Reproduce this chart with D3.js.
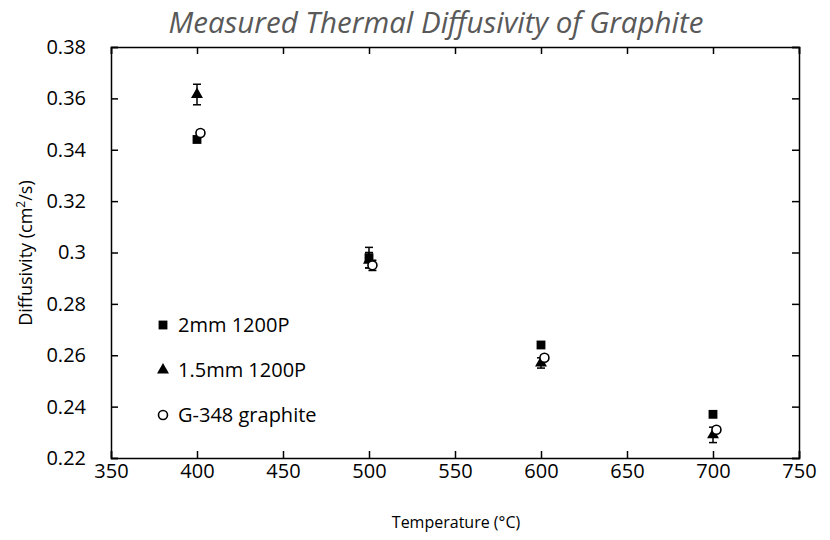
<!DOCTYPE html>
<html>
<head>
<meta charset="utf-8">
<script src="https://cdn.jsdelivr.net/npm/d3@7"></script>
<style>
  body { margin: 0; background: #fff; }
  text { font-family: "Open Sans", "Noto Sans", sans-serif; }
</style>
</head>
<body>
<div id="chart"></div>
<script>
// data
var temps = [400, 500, 600, 700];
var sqVals = [0.344, 0.298, 0.264, 0.237];
var sqErr = [0.001, 0.004, 0.001, 0.001];
var triVals = [0.3615, 0.297, 0.257, 0.229];
var triErr = [0.004, 0.003, 0.002, 0.003];
var circTemps = [402, 502, 602, 702];
var circVals = [0.3465, 0.295, 0.259, 0.231];
var circErr = [0.001, 0.002, 0.001, 0.001];
var seriesNames = ['2mm 1200P', '1.5mm 1200P', 'G-348 graphite'];
var xTicks = [350, 400, 450, 500, 550, 600, 650, 700, 750];
var yTicks = [0.22, 0.24, 0.26, 0.28, 0.3, 0.32, 0.34, 0.36, 0.38];

var width = 830, height = 540;
var margin = { top: 47, right: 31, bottom: 82, left: 111 };

var svg = d3.select('#chart').append('svg').attr('width', width).attr('height', height);

var x = d3.scaleLinear().domain([350, 750]).range([margin.left, width - margin.right]);
var y = d3.scaleLinear().domain([0.22, 0.38]).range([height - margin.bottom, margin.top]);

// frame with inward ticks
svg.append('g')
	.attr('transform', `translate(0,${height - margin.bottom})`)
	.call(d3.axisBottom(x).tickValues(xTicks).tickSize(-7).tickPadding(6).tickFormat(d3.format('d')))
	.call((g) => g.selectAll('text').style('font-size', '20px').attr('fill', '#000'));
svg.append('g')
	.attr('transform', `translate(0,${margin.top})`)
	.call(d3.axisTop(x).tickValues(xTicks).tickSize(-7).tickFormat(''));
svg.append('g')
	.attr('transform', `translate(${margin.left},0)`)
	.call(d3.axisLeft(y).tickValues(yTicks).tickSize(-7).tickPadding(25).tickFormat((d) => d3.format('')(+d.toFixed(2))))
	.call((g) => g.selectAll('text').style('font-size', '20px').attr('fill', '#000'));
svg.append('g')
	.attr('transform', `translate(${width - margin.right},0)`)
	.call(d3.axisRight(y).tickValues(yTicks).tickSize(-7).tickFormat(''));
svg.selectAll('.domain').attr('stroke', '#000').attr('stroke-width', 1.5);
svg.selectAll('.tick line').attr('stroke', '#000').attr('stroke-width', 1.5);

// error bars
function errorBars(xs, vals, errs) {
	var g = svg.append('g').attr('stroke', '#000').attr('stroke-width', 1.5);
	vals.forEach((v, i) => {
		var cx = x(xs[i]);
		g.append('line').attr('x1', cx).attr('x2', cx).attr('y1', y(v - errs[i])).attr('y2', y(v + errs[i]));
		[v - errs[i], v + errs[i]].forEach((e) => {
			g.append('line').attr('x1', cx - 4).attr('x2', cx + 4).attr('y1', y(e)).attr('y2', y(e));
		});
	});
}
errorBars(temps, triVals, triErr);
errorBars(temps, sqVals, sqErr);
errorBars(circTemps, circVals, circErr);

var square = d3.symbol().type(d3.symbolSquare).size(78);
var triangle = d3.symbol().type(d3.symbolTriangle).size(62);

svg.append('g').selectAll('path').data(triVals).enter().append('path')
	.attr('d', triangle)
	.attr('transform', (d, i) => `translate(${x(temps[i])},${y(d)})`)
	.attr('fill', '#000');

svg.append('g').selectAll('path').data(sqVals).enter().append('path')
	.attr('d', square)
	.attr('transform', (d, i) => `translate(${x(temps[i])},${y(d)})`)
	.attr('fill', '#000');

svg.append('g').selectAll('circle').data(circVals).enter().append('circle')
	.attr('cx', (d, i) => x(circTemps[i]))
	.attr('cy', (d) => y(d))
	.attr('r', 4.5)
	.attr('fill', '#fff')
	.attr('stroke', '#000')
	.attr('stroke-width', 1.6);

// legend
var legend = svg.append('g').attr('transform', 'translate(163,325)');
seriesNames.forEach((name, i) => {
	var row = legend.append('g').attr('transform', `translate(0,${i * 45})`);
	if (i == 0) row.append('path').attr('d', square).attr('fill', '#000');
	if (i == 1) row.append('path').attr('d', triangle).attr('fill', '#000');
	if (i == 2) row.append('circle').attr('r', 4.5).attr('fill', '#fff').attr('stroke', '#000').attr('stroke-width', 1.6);
	row.append('text').attr('x', 15).attr('dy', '0.35em').attr('font-size', 20).text(name);
});

// titles
svg.append('text')
	.attr('x', 436).attr('y', 33)
	.attr('text-anchor', 'middle')
	.attr('font-size', 29.5)
	.attr('font-style', 'italic')
	.attr('fill', '#595959')
	.text('Measured Thermal Diffusivity of Graphite');

svg.append('text')
	.attr('x', 456).attr('y', 528)
	.attr('text-anchor', 'middle')
	.attr('font-size', 16)
	.text('Temperature (°C)');

var yTitle = svg.append('text')
	.attr('transform', 'translate(32,253) rotate(-90)')
	.attr('text-anchor', 'middle')
	.attr('font-size', 18);
yTitle.append('tspan').text('Diffusivity (cm');
yTitle.append('tspan').attr('font-size', 12).attr('dy', -7).text('2');
yTitle.append('tspan').attr('dy', 7).text('/s)');
</script>
</body>
</html>
